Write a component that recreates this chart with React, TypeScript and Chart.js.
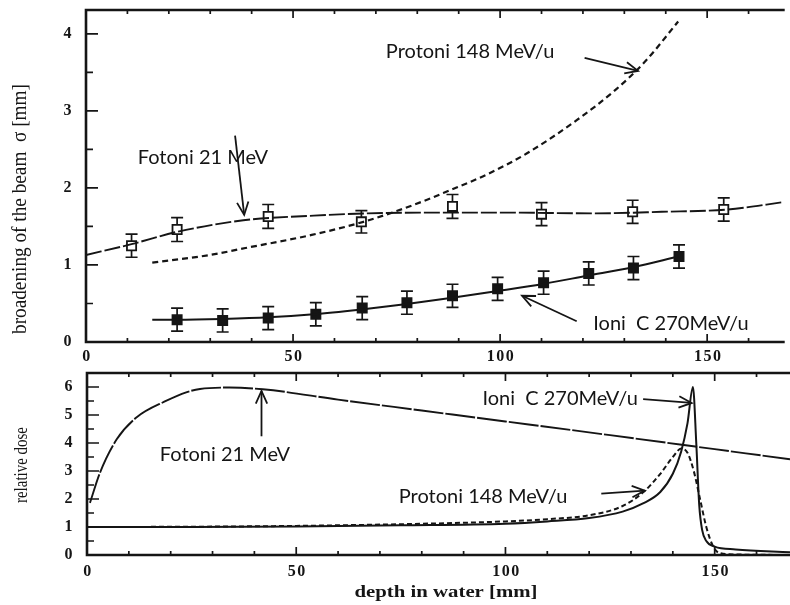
import React, { useEffect, useRef } from "react";
import { Chart, registerables } from "chart.js";

Chart.register(...registerables);

const INK = "#151515";
const DEPTH_MAX = 168;

// ---------- Tick labels
const sigmaTicks = [0, 1, 2, 3, 4];
const depthTicks = [0, 50, 100, 150];
const doseTicks = [0, 1, 2, 3, 4, 5, 6];

// ---------- Top panel: broadening of the beam sigma [mm] vs depth [mm]
const photonPtsDepth = [11, 22, 44, 66.5, 88.5, 110, 132, 154];
const photonPtsSigma = [1.25, 1.46, 1.63, 1.56, 1.76, 1.66, 1.69, 1.72];
const photonPtsErr = [0.15, 0.155, 0.155, 0.145, 0.155, 0.15, 0.15, 0.15];

const photonFitDepth = [0, 11, 22, 38, 55, 68, 82, 100, 123, 139, 155, 169];
const photonFitSigma = [1.13, 1.27, 1.43, 1.58, 1.64, 1.67, 1.68, 1.68, 1.67, 1.69, 1.72, 1.82];

const protonSigmaDepth = [16, 30, 38.5, 54.5, 67, 75, 82.5, 87, 97, 106.5, 118.5, 128, 135, 143];
const protonSigma = [1.03, 1.13, 1.22, 1.39, 1.56, 1.7, 1.85, 1.95, 2.18, 2.45, 2.88, 3.28, 3.64, 4.16];

const carbonPtsDepth = [22, 33, 44, 55.5, 66.7, 77.5, 88.5, 99.4, 110.5, 121.4, 132.2, 143.2];
const carbonPtsSigma = [0.29, 0.28, 0.31, 0.36, 0.44, 0.51, 0.6, 0.69, 0.77, 0.89, 0.96, 1.11];
const carbonPtsErr = [0.15, 0.15, 0.15, 0.15, 0.15, 0.15, 0.15, 0.15, 0.15, 0.15, 0.15, 0.15];

const carbonFitDepth = [16, 22, 33, 44, 55, 66, 77, 88, 99, 110, 121, 132, 143];
const carbonFitSigma = [0.29, 0.29, 0.3, 0.32, 0.36, 0.42, 0.49, 0.57, 0.66, 0.75, 0.86, 0.97, 1.11];

// ---------- Bottom panel: relative dose vs depth [mm]
const photonDoseDepth = [0.7, 3.1, 7.1, 11.8, 19, 23.7, 27, 34, 42, 60, 80, 100, 125, 150, 168];
const photonDose = [1.86, 2.94, 4.13, 4.91, 5.51, 5.81, 5.93, 5.98, 5.92, 5.55, 5.16, 4.77, 4.28, 3.78, 3.42];

const carbonDoseDepth = [0, 25, 50, 75, 100, 110, 120, 128, 133, 137, 140, 142, 143.5, 144.8, 145.6, 146.3, 147, 148, 150, 155, 168];
const carbonDose = [1.0, 1.0, 1.02, 1.06, 1.12, 1.2, 1.32, 1.55, 1.85, 2.25, 2.9, 3.7, 4.7, 6.0, 4.0, 1.8, 0.9, 0.5, 0.3, 0.2, 0.1];

const protonDoseDepth = [0, 25, 50, 75, 100, 110, 120, 128, 133, 137, 140, 142, 143.5, 145, 146.5, 148, 149.5, 151, 155, 168];
const protonDose = [1.0, 1.01, 1.04, 1.1, 1.2, 1.28, 1.42, 1.75, 2.25, 2.9, 3.5, 3.8, 3.65, 3.0, 2.0, 1.0, 0.35, 0.08, 0.02, 0.0];

// ---------- Annotations (data coordinates)
const topNotes = [
  { text: "Protoni 148 MeV/u", tx: 72.4, ty: 3.77, from: [120.4, 3.69], to: [133.3, 3.52] },
  { text: "Fotoni 21 MeV", tx: 12.5, ty: 2.4, from: [36, 2.68], to: [38.2, 1.65] },
  { text: "Ioni  C 270MeV/u", tx: 122.5, ty: 0.24, from: [118.5, 0.27], to: [105.3, 0.6] },
];
const bottomNotes = [
  { text: "Ioni  C 270MeV/u", tx: 94.5, ty: 5.6, from: [132.9, 5.57], to: [144.5, 5.43] },
  { text: "Fotoni 21 MeV", tx: 17.4, ty: 3.6, from: [41.7, 4.24], to: [41.7, 5.86] },
  { text: "Protoni 148 MeV/u", tx: 74.5, ty: 2.08, from: [122.9, 2.19], to: [133.3, 2.3] },
];

const zip = (xs: number[], ys: number[]) => xs.map((x, i) => ({ x, y: ys[i] }));

function drawArrow(ctx: CanvasRenderingContext2D, x0: number, y0: number, x1: number, y1: number) {
  ctx.beginPath();
  ctx.moveTo(x0, y0);
  ctx.lineTo(x1, y1);
  ctx.stroke();
  const a = Math.atan2(y1 - y0, x1 - x0);
  const L = 14;
  const w = 0.42;
  ctx.beginPath();
  ctx.moveTo(x1 - L * Math.cos(a - w), y1 - L * Math.sin(a - w));
  ctx.lineTo(x1, y1);
  ctx.lineTo(x1 - L * Math.cos(a + w), y1 - L * Math.sin(a + w));
  ctx.stroke();
}

const errorBarPlugin = {
  id: "errorBars",
  beforeDatasetsDraw(chart: any) {
    const { ctx, scales } = chart;
    const ys = scales.y;
    ctx.save();
    ctx.strokeStyle = INK;
    ctx.lineWidth = 1.7;
    chart.data.datasets.forEach((ds: any, i: number) => {
      if (!ds.errors) return;
      const meta = chart.getDatasetMeta(i);
      meta.data.forEach((el: any, j: number) => {
        const v = ds.data[j].y;
        const e = ds.errors[j];
        const top = ys.getPixelForValue(v + e);
        const bot = ys.getPixelForValue(v - e);
        const cap = 6;
        ctx.beginPath();
        ctx.moveTo(el.x, top);
        ctx.lineTo(el.x, bot);
        ctx.moveTo(el.x - cap, top);
        ctx.lineTo(el.x + cap, top);
        ctx.moveTo(el.x - cap, bot);
        ctx.lineTo(el.x + cap, bot);
        ctx.stroke();
      });
    });
    ctx.restore();
  },
};

const framePlugin = {
  id: "frame",
  afterDatasetsDraw(chart: any, _args: any, o: any) {
    const { ctx, chartArea: a, scales } = chart;
    const xs = scales.x;
    const ys = scales.y;
    ctx.save();
    ctx.strokeStyle = INK;
    ctx.fillStyle = INK;
    // frame
    ctx.lineWidth = 2.6;
    ctx.beginPath();
    ctx.moveTo(a.right + 3, a.top);
    ctx.lineTo(a.left, a.top);
    ctx.lineTo(a.left, a.bottom);
    ctx.lineTo(a.right + 3, a.bottom);
    ctx.stroke();
    // inward ticks
    ctx.lineWidth = 1.7;
    ctx.beginPath();
    const nx = Math.floor(xs.max / o.xMinor);
    for (let k = 1; k <= nx; k++) {
      const v = k * o.xMinor;
      const px = xs.getPixelForValue(v);
      const L = v % o.xMajor === 0 ? 8 : 4;
      ctx.moveTo(px, a.bottom);
      ctx.lineTo(px, a.bottom - L);
      ctx.moveTo(px, a.top);
      ctx.lineTo(px, a.top + L);
    }
    const ny = Math.floor(ys.max / o.yMinor + 1e-6);
    for (let k = 1; k <= ny; k++) {
      const v = k * o.yMinor;
      const py = ys.getPixelForValue(v);
      const L = k % 2 === 0 ? 12 : 7;
      ctx.moveTo(a.left, py);
      ctx.lineTo(a.left + L, py);
    }
    ctx.stroke();
    // tick labels
    ctx.font = 'bold 16px "Liberation Serif"';
    (ctx as any).letterSpacing = "1.5px";
    ctx.textBaseline = "middle";
    ctx.textAlign = "center";
    o.xTicks.forEach((v: number) => {
      ctx.fillText(String(v), xs.getPixelForValue(v) + 1, a.bottom + o.xLabelOffset);
    });
    ctx.textAlign = "right";
    o.yTicks.forEach((v: number) => {
      ctx.fillText(String(v), a.left - 13, ys.getPixelForValue(v));
    });
    (ctx as any).letterSpacing = "0px";
    // y title, rotated
    ctx.save();
    ctx.translate(o.yTitleX, o.yTitleY);
    ctx.rotate(-Math.PI / 2);
    ctx.font = `${o.yTitleSize}px "Liberation Serif"`;
    const w = ctx.measureText(o.yTitle).width;
    ctx.scale(o.yTitleLen / w, 1);
    ctx.textAlign = "center";
    ctx.textBaseline = "middle";
    ctx.fillText(o.yTitle, 0, 0);
    ctx.restore();
    // x title
    if (o.xTitle) {
      ctx.save();
      ctx.font = 'bold 16px "Liberation Serif"';
      const tw = ctx.measureText(o.xTitle).width;
      ctx.translate(o.xTitleX, a.bottom + o.xTitleOffset);
      ctx.scale(o.xTitleLen / tw, 1);
      ctx.textAlign = "center";
      ctx.textBaseline = "middle";
      ctx.fillText(o.xTitle, 0, 0);
      ctx.restore();
    }
    // annotations
    ctx.font = '20px "Lato"';
    ctx.textAlign = "left";
    ctx.textBaseline = "middle";
    ctx.lineWidth = 1.8;
    o.notes.forEach((n: any) => {
      ctx.fillText(n.text, xs.getPixelForValue(n.tx), ys.getPixelForValue(n.ty));
      drawArrow(
        ctx,
        xs.getPixelForValue(n.from[0]),
        ys.getPixelForValue(n.from[1]),
        xs.getPixelForValue(n.to[0]),
        ys.getPixelForValue(n.to[1])
      );
    });
    ctx.restore();
  },
};

const lineDs = (xs: number[], ys: number[], dash: number[], width = 2) => ({
  data: zip(xs, ys),
  showLine: true,
  borderColor: INK,
  borderWidth: width,
  borderDash: dash,
  pointRadius: 0,
  cubicInterpolationMode: "monotone",
  fill: false,
});

const pointDs = (xs: number[], ys: number[], errs: number[], filled: boolean) => ({
  data: zip(xs, ys),
  errors: errs,
  showLine: false,
  pointStyle: "rect",
  pointRadius: 6.5,
  pointBorderWidth: 1.8,
  pointBorderColor: INK,
  pointBackgroundColor: filled ? INK : "#ffffff",
});

function baseOptions(yMax: number, xAxisH: number, yAxisW: number, padTop: number, frame: any) {
  return {
    animation: false,
    responsive: false,
    maintainAspectRatio: false,
    events: [],
    layout: { padding: { left: 0, right: 0, top: padTop, bottom: 0 } },
    plugins: { legend: { display: false }, tooltip: { enabled: false }, frame },
    scales: {
      x: {
        type: "linear",
        min: 0,
        max: DEPTH_MAX,
        grid: { display: false, drawTicks: false },
        border: { display: false },
        ticks: { display: false },
        afterFit: (s: any) => {
          s.height = xAxisH;
        },
      },
      y: {
        type: "linear",
        min: 0,
        max: yMax,
        grid: { display: false, drawTicks: false },
        border: { display: false },
        ticks: { display: false },
        afterFit: (s: any) => {
          s.width = yAxisW;
        },
      },
    },
  };
}

const topConfig = () => ({
  type: "scatter",
  data: {
    datasets: [
      lineDs(photonFitDepth, photonFitSigma, [16, 3], 1.9),
      lineDs(protonSigmaDepth, protonSigma, [6, 4], 2.2),
      lineDs(carbonFitDepth, carbonFitSigma, [], 2.0),
      pointDs(photonPtsDepth, photonPtsSigma, photonPtsErr, false),
      pointDs(carbonPtsDepth, carbonPtsSigma, carbonPtsErr, true),
    ],
  },
  options: baseOptions(4.31, 23, 86, 10, {
    xMinor: 10,
    xMajor: 50,
    yMinor: 0.5,
    xTicks: depthTicks,
    yTicks: sigmaTicks,
    xLabelOffset: 15,
    yTitle: "broadening of the beam  σ [mm]",
    yTitleX: 20,
    yTitleY: 209,
    yTitleSize: 21,
    yTitleLen: 250,
    notes: topNotes,
  }),
  plugins: [errorBarPlugin, framePlugin],
});

const bottomConfig = () => ({
  type: "scatter",
  data: {
    datasets: [
      lineDs(photonDoseDepth, photonDose, [30, 2], 1.9),
      lineDs(carbonDoseDepth, carbonDose, [], 2.0),
      lineDs(protonDoseDepth, protonDose, [5, 3], 2.0),
    ],
  },
  options: baseOptions(6.5, 50, 87, 8, {
    xMinor: 10,
    xMajor: 50,
    yMinor: 0.5,
    xTicks: depthTicks,
    yTicks: doseTicks,
    xLabelOffset: 17,
    yTitle: "relative dose",
    yTitleX: 22,
    yTitleY: 100,
    yTitleSize: 19,
    yTitleLen: 76,
    xTitle: "depth in water [mm]",
    xTitleX: 446,
    xTitleOffset: 38,
    xTitleLen: 183,
    notes: bottomNotes,
  }),
  plugins: [errorBarPlugin, framePlugin],
});

function Panel({ make, width, height, top }: { make: () => any; width: number; height: number; top: number }) {
  const ref = useRef<HTMLCanvasElement>(null);
  useEffect(() => {
    const chart = new Chart(ref.current as HTMLCanvasElement, make());
    return () => chart.destroy();
  }, []);
  return (
    <canvas
      ref={ref}
      width={width}
      height={height}
      style={{ position: "absolute", left: 0, top, width, height, display: "block" }}
    />
  );
}

export default function App() {
  return (
    <div style={{ position: "fixed", left: 0, top: 0, width: 790, height: 605, background: "#ffffff", overflow: "hidden" }}>
      <Panel make={topConfig} width={790} height={365} top={0} />
      <Panel make={bottomConfig} width={790} height={240} top={365} />
    </div>
  );
}
